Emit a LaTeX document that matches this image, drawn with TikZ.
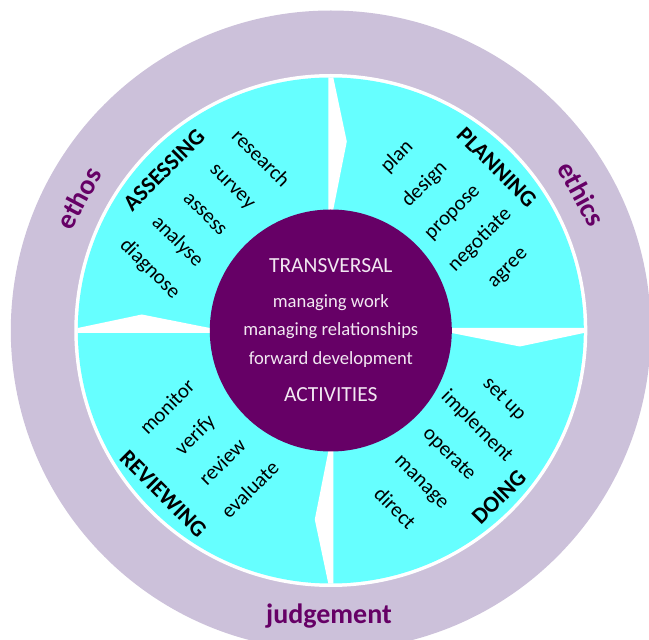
\documentclass[tikz,border=0pt]{standalone}
\usepackage{fontspec}
\setmainfont{Carlito}
\definecolor{lav}{RGB}{204,193,218}
\definecolor{cy}{RGB}{102,255,255}
\definecolor{pur}{RGB}{102,0,102}
\definecolor{ctext}{RGB}{242,232,242}
\begin{document}
\begin{tikzpicture}[x=1pt,y=1pt,
  words/.style={font=\fontsize{20.8}{39}\selectfont, align=center, inner sep=0pt, text=black},
  qtitle/.style={font=\bfseries\fontsize{23}{27}\selectfont, inner sep=0pt, text=black},
  ringlabel/.style={font=\bfseries\fontsize{28}{32}\selectfont, text=pur, inner sep=0pt},
  coreline/.style={font=\fontsize{18.6}{22}\selectfont, text=ctext, anchor=base, inner sep=0pt},
  corehead/.style={font=\fontsize{21.5}{25}\selectfont, text=ctext, anchor=base, inner sep=0pt},
  gap/.style={fill=white}]
\useasboundingbox (-330.8,-309.5) rectangle (318.2,330.5);
\clip (-330.8,-309.5) rectangle (318.2,330.5);
% rings
\fill[lav] (0,0) circle (320);
\fill[white] (0,0) circle (256.5);
\fill[cy] (0,0) circle (253);
% white gaps with notches
\begin{scope}
  \clip (0,0) circle (253.2);
  \foreach \r in {0,-90,-180,-270}{
    \fill[gap, rotate=\r] (-2.5,0) -- (-2.5,270) -- (2.5,270) -- (2.5,253)
      -- (16,189) -- (2.5,121) -- (2.5,0) -- cycle;
  }
\end{scope}
% core
\node[circle, fill=pur, minimum size=242pt, inner sep=0pt] (core) at (0,0) {};
\node[corehead] (trans) at (0,57.8) {TRANSVERSAL};
\node[coreline] (mw) at (0,23.2) {managing work};
\node[coreline] (mr) at (0,-5.5) {managing relationships};
\node[coreline] (fd) at (0,-33.8) {forward development};
\node[corehead] (act) at (0,-71.2) {ACTIVITIES};
% quadrant word blocks
\node[words, rotate=-45] (wa) at (-125.8,116.5) {research\\survey\\assess\\analyse\\diagnose};
\node[words, rotate=45] (wp) at (121.5,118.2) {plan\\design\\propose\\negotiate\\agree};
\node[words, rotate=-45] (wd) at (119.2,-122.8) {set up\\implement\\operate\\manage\\direct};
\node[words, rotate=45] (wr) at (-122.45,-117.65) {monitor\\verify\\review\\evaluate};
% quadrant titles
\node[qtitle, rotate=45] (ta) at (-166.8,160.5) {ASSESSING};
\node[qtitle, rotate=-45] (tp) at (165.9,163.2) {PLANNING};
\node[qtitle, rotate=45] (td) at (168.2,-166.8) {DOING};
\node[qtitle, rotate=-45] (tr) at (-167.5,-163.5) {REVIEWING};
% ring labels
\node[ringlabel, rotate=62] (ethos) at (-252.3,132.5) {ethos};
\node[ringlabel, rotate=-61.5] (ethics) at (250.9,136.5) {ethics};
\node[ringlabel] (judg) at (-1.8,-286) {judgement};
\end{tikzpicture}
\end{document}
